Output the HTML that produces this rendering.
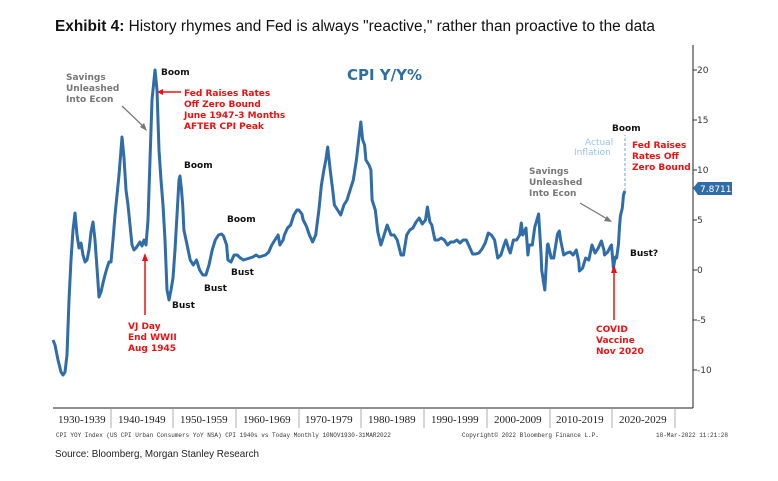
<!DOCTYPE html>
<html><head><meta charset="utf-8"><style>
body{margin:0;background:#fff;width:778px;height:481px;overflow:hidden;font-family:"Liberation Sans",sans-serif}
</style></head><body>
<svg width="778" height="481" xmlns="http://www.w3.org/2000/svg" style="position:absolute;left:0;top:0">
<text x="55" y="31" font-family="Liberation Sans" font-size="15.5" textLength="600" lengthAdjust="spacingAndGlyphs" fill="#111"><tspan font-weight="bold">Exhibit 4:</tspan>  History rhymes and Fed is always "reactive," rather than proactive to the data</text>
<line x1="693" y1="45" x2="693" y2="408" stroke="#222" stroke-width="1"/>
<line x1="53" y1="408" x2="693" y2="408" stroke="#222" stroke-width="1"/>
<g font-family="DejaVu Sans" font-size="9" fill="#333">
<text x="697" y="73">20</text><text x="697" y="123">15</text><text x="697" y="173">10</text><text x="697" y="223">5</text><text x="697" y="273">0</text><text x="697" y="323">-5</text><text x="697" y="373">-10</text>
</g>
<g stroke="#333"><line x1="693" x2="697" y1="70" y2="70"/><line x1="693" x2="697" y1="120" y2="120"/><line x1="693" x2="697" y1="170" y2="170"/><line x1="693" x2="697" y1="220" y2="220"/><line x1="693" x2="697" y1="270" y2="270"/><line x1="693" x2="697" y1="320" y2="320"/><line x1="693" x2="697" y1="370" y2="370"/></g>
<g stroke="#999" stroke-width="0.8">
<line x1="111" x2="111" y1="408" y2="428"/><line x1="173" x2="173" y1="408" y2="428"/><line x1="236" x2="236" y1="408" y2="428"/><line x1="299" x2="299" y1="408" y2="428"/><line x1="361" x2="361" y1="408" y2="428"/><line x1="424" x2="424" y1="408" y2="428"/><line x1="487" x2="487" y1="408" y2="428"/><line x1="550" x2="550" y1="408" y2="428"/><line x1="612" x2="612" y1="408" y2="428"/><line x1="675" x2="675" y1="408" y2="428"/>
</g>
<g font-family="Liberation Serif" font-size="11" fill="#222">
<text x="58" y="423">1930-1939</text><text x="118" y="423">1940-1949</text><text x="180" y="423">1950-1959</text><text x="243" y="423">1960-1969</text><text x="305" y="423">1970-1979</text><text x="368" y="423">1980-1989</text><text x="431" y="423">1990-1999</text><text x="494" y="423">2000-2009</text><text x="556" y="423">2010-2019</text><text x="619" y="423">2020-2029</text>
</g>
<g font-family="Liberation Mono" font-size="6" fill="#333">
<text x="56" y="437">CPI YOY Index (US CPI Urban Consumers YoY NSA) CPI 1940s vs Today  Monthly 10NOV1930-31MAR2022</text>
<text x="462" y="437">Copyright© 2022 Bloomberg Finance L.P.</text>
<text x="656" y="437">18-Mar-2022 11:21:28</text>
</g>
<text x="55" y="457" font-size="10.5" fill="#222" textLength="204" lengthAdjust="spacingAndGlyphs">Source: Bloomberg, Morgan Stanley Research</text>

<text x="347" y="80" font-family="DejaVu Sans" font-weight="bold" font-size="15" fill="#2e6da4">CPI Y/Y%</text>

<polyline fill="none" stroke="#2f6ca8" stroke-width="3" stroke-linejoin="round" points="
53,340 55,345 58,360 61,372 63,375 65,372 67,355 69,300 71,260 73,230 75,213 77,235 79,248 81,243 83,255 85,262 87,260 89,250 91,232 93,222 95,240 97,268 99,297 101,292 103,283 105,275 107,268 109,262 111,262 113,240 115,215 117,195 119,175 121,150 122,137 124,158 126,190 128,205 130,225 132,245 134,250 136,248 138,245 140,242 142,246 144,240 146,245 148,220 150,160 152,100 154,80 155,70 157,90 159,150 161,180 163,205 165,240 167,290 169,300 171,290 173,278 175,250 177,215 179,180 180,176
181.5,190 182.7,205 183.9,230 187.1,245 190.2,260 193.3,265 196.5,260 199.6,270 202.8,275 205.9,275 209,265 212.2,250 215.3,240 218.5,235 221.6,234 223.5,236 226.6,245 227.9,260 231,262 234.1,255 237.2,255 240.4,258 243.5,260 246.7,259 252.9,257 256.1,255 259.2,257 265.5,255 268.7,252 271.8,245 274.9,240 278.1,235 279.9,245 283.1,240 284.4,235 287.5,228 290.6,225 293.8,215 296.9,210 298.8,210 301.9,214 303.2,220 306.3,226 309.4,235 312.6,242 315.7,235 318.9,210 321.4,185 323.9,170 325.8,160 327.7,147 330.2,170 332.7,190 334.4,205 337.6,210 340.7,215 343.9,205 347,200 350.1,190 353.3,180 356.4,160 360.8,122 362.7,140 364.6,145 365.9,160 369,165 370.9,170 372.1,200 375.3,210 377.8,232 380.9,245 384.1,235 387.2,225 391,235 394.1,235 397.2,240 401,255 403.5,255 406.7,235 409.8,230 412.9,228 416.1,222 419.2,218 422.3,224 425.5,220 427.4,207 429.9,222 431.8,225 434.9,240 438.1,240 441.2,238 444.3,240 447.5,245 450.6,242 453.8,242 456.9,240 460,243 463.2,240 466.3,240 469.5,247 472.6,254 475.7,254 478.9,253 482,249 485.2,243 488.3,233 491.4,235 494.6,240 497.7,258 500.9,255 504,245 505.9,240 509,250 510.3,253 513.4,240 516.6,240 519.7,235 521.3,223 522.8,235 526,228 527.9,255 529.1,245 532.3,245 534.8,227 538.6,214 541.1,255 541.7,270 544.8,290 547.4,245 548,244 551.2,258 553.7,258 557.5,234 559.3,231 560.6,240 563.7,255 566.9,253 570,252 573.1,255 576.3,250 578.8,262 579.4,271 582.6,268 585.7,258 588.8,260 592,245 595.1,253 598.3,248 601.4,241 603.9,250 604.5,255 607.7,252 610.2,247 611.5,245 613.4,268 615.3,257 616.6,258 618.5,244 619.4,228 620.4,216 622.3,208 623.5,195 624.8,191"/>
<line x1="625" y1="191" x2="625" y2="135" stroke="#9cc3e6" stroke-width="1.5" stroke-dasharray="3,2"/>

<g font-family="DejaVu Sans" font-weight="bold" font-size="9">
<g fill="#777"><text x="66" y="80">Savings</text><text x="66" y="91">Unleashed</text><text x="66" y="102">Into Econ</text></g>
<line x1="122" y1="106" x2="145" y2="128" stroke="#777" stroke-width="1.3"/>
<polygon points="147,131 140,127 144,123" fill="#777"/>
<text x="161" y="75" fill="#111">Boom</text>
<g fill="#e11"><text x="184" y="96">Fed Raises Rates</text><text x="184" y="107">Off Zero Bound</text><text x="184" y="118">June 1947-3 Months</text><text x="184" y="129">AFTER CPI Peak</text></g>
<line x1="160" y1="92" x2="181" y2="92" stroke="#e11" stroke-width="1.5"/>
<polygon points="157,92 163,89 163,95" fill="#e11"/>
<text x="184" y="168" fill="#111">Boom</text>
<text x="227" y="222" fill="#111">Boom</text>
<text x="231" y="275" fill="#111">Bust</text>
<text x="204" y="291" fill="#111">Bust</text>
<text x="172" y="308" fill="#111">Bust</text>
<line x1="145" y1="258" x2="145" y2="315" stroke="#e11" stroke-width="1.5"/>
<polygon points="145,253 142,261 148,261" fill="#e11"/>
<g fill="#e11"><text x="128" y="329">VJ Day</text><text x="128" y="340">End WWII</text><text x="128" y="351">Aug 1945</text></g>
<text x="612" y="131" fill="#111">Boom</text>
<g fill="#9cc3e6" font-weight="normal"><text x="585" y="145">Actual</text><text x="574" y="155">Inflation</text></g>
<g fill="#e11"><text x="632" y="148">Fed Raises</text><text x="632" y="159">Rates Off</text><text x="632" y="170">Zero Bound</text></g>
<g fill="#777"><text x="529" y="174">Savings</text><text x="529" y="185">Unleashed</text><text x="529" y="196">Into Econ</text></g>
<line x1="580" y1="203" x2="609" y2="220" stroke="#777" stroke-width="1.3"/>
<polygon points="612,222 604,221 607,216" fill="#777"/>
<text x="630" y="256" fill="#111">Bust?</text>
<line x1="614" y1="270" x2="614" y2="320" stroke="#e11" stroke-width="1.5"/>
<polygon points="614,265 611,273 617,273" fill="#e11"/>
<g fill="#e11"><text x="596" y="332">COVID</text><text x="596" y="343">Vaccine</text><text x="596" y="354">Nov 2020</text></g>
</g>
<polygon points="693,188 698,182 732,182 732,195 698,195" fill="#2f6ca8"/>
<text x="700" y="192" font-family="DejaVu Sans" font-size="9" fill="#fff">7.8711</text>
</svg>
</body></html>
